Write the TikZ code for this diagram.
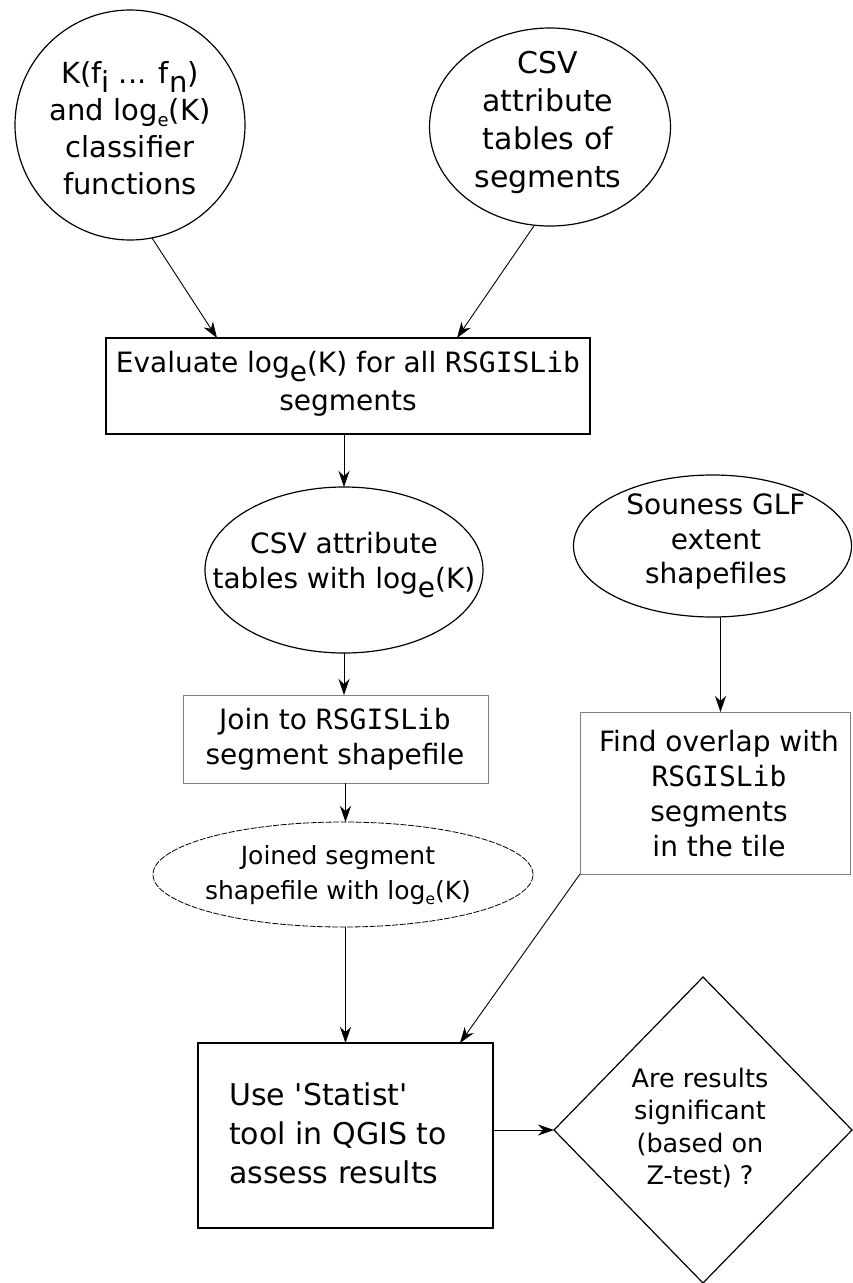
\documentclass[tikz,border=0pt]{standalone}
\usepackage{fontspec}
\usepackage{graphicx}
\setmainfont{DejaVu Sans}[Ligatures=TeXOff]
\setmonofont{DejaVu Sans Mono}
\usetikzlibrary{shapes.geometric,arrows.meta,calc}
\newcommand\bigsub[1]{\raisebox{-0.3em}{#1}}
\newcommand\smallsub[1]{\raisebox{-0.22em}{\scalebox{0.62}{#1}}}
\newcommand\fsz[2]{\fontsize{#1}{#2}\selectfont}
\tikzset{
  shp/.style={draw=black, line width=1.2pt, inner sep=0pt, outer sep=0pt},
  circ/.style={shp, circle},
  ell/.style={shp, ellipse},
  rbox/.style={shp, rectangle},
  gbox/.style={rbox, draw=black!50, line width=1pt},
  dell/.style={ell, line width=0.8pt, dash pattern=on 6pt off 1.5pt},
  dia/.style={shp, diamond},
  lbl/.style={align=center, inner sep=0pt},
  arr/.style={-{Stealth[length=16pt,width=11pt,inset=5pt]}, line width=0.9pt}
}
\begin{document}
\begin{tikzpicture}[x=1pt,y=-1pt]
\useasboundingbox[fill=white] (0,0) rectangle (852,1283);
% shapes
\node[circ, minimum size=230pt] (K) at (130,125) {};
\node[ell, minimum width=241pt, minimum height=198pt] (csv) at (550,127) {};
\node[rbox, minimum width=484pt, minimum height=96pt] (eval) at (348,386) {};
\node[ell, minimum width=278pt, minimum height=166pt] (csv2) at (344,570) {};
\node[gbox, minimum width=305pt, minimum height=88pt] (join) at (335.5,739) {};
\node[dell, minimum width=380pt, minimum height=105pt] (joined) at (343,874.5) {};
\node[ell, minimum width=278pt, minimum height=142pt] (sou) at (712.5,546) {};
\node[gbox, minimum width=270pt, minimum height=162pt] (find) at (715,793) {};
\node[rbox, minimum width=295pt, minimum height=185pt] (stat) at (345.5,1135.5) {};
\node[dia, minimum width=298pt, minimum height=306pt] (dec) at (703,1130) {};
% texts
\node[lbl, font=\fsz{29}{37}] (Kt) at (130,128) {K(f\bigsub{i} ... f\bigsub{n})\\and log\smallsub{e}(K)\\classifier\\functions};
\node[lbl, font=\fsz{30}{38}] (csvt) at (548,122) {CSV\\attribute\\tables of\\segments};
\node[lbl, font=\fsz{28}{38}] (evalt) at (348,384) {Evaluate log\bigsub{e}(K) for all \texttt{RSGISLib}\\segments};
\node[lbl, font=\fsz{28}{35}] (csv2t) at (344,565) {CSV attribute\\tables with log\bigsub{e}(K)};
\node[lbl, font=\fsz{28}{35}] (joint) at (335,739) {Join to \texttt{RSGISLib}\\segment shapefile};
\node[lbl, font=\fsz{25}{35}] (joinedt) at (338,875) {Joined segment\\shapefile with log\smallsub{e}(K)};
\node[lbl, font=\fsz{28}{34.5}] (sout) at (716,542) {Souness GLF\\extent\\shapefiles};
\node[lbl, font=\fsz{28}{35}] (findt) at (719,794) {Find overlap with\\\texttt{RSGISLib}\\segments\\in the tile};
\node[lbl, align=left, anchor=west, font=\fsz{30}{39}] (statt) at (229,1133) {Use 'Statist'\\tool in QGIS to\\assess results};
\node[lbl, font=\fsz{25.5}{32.5}] (dect) at (700,1128) {Are results\\significant\\(based on\\Z-test) ?};
% connectors
\draw[arr] (K.-79) -- ([xshift=111pt]eval.north west);
\draw[arr] (csv.-99) -- ([xshift=351pt]eval.north west);
\draw[arr] (csv2.north |- eval.south) -- (csv2.north);
\draw[arr] (csv2.south) -- (csv2.south |- join.north);
\draw[arr] (stat.north |- join.south) -- (joined.north -| stat.north);
\draw[arr] (stat.north |- joined.south) -- (stat.north);
\draw[arr] ([xshift=8pt]sou.south) -- ([xshift=8pt]sou.south |- find.north);
\draw[arr] (find.south west) -- ([xshift=-33pt]stat.north east);
\draw[arr] (stat.east |- dec.west) -- (dec.west);
\end{tikzpicture}
\end{document}
